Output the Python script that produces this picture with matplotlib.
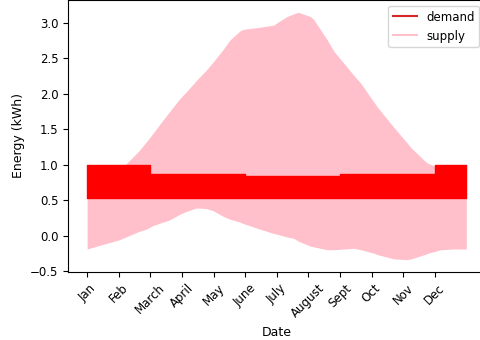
import matplotlib
matplotlib.use("Agg")
import matplotlib.pyplot as plt
from matplotlib.lines import Line2D
import numpy as np

months = ["Jan", "Feb", "March", "April", "May", "June", "July",
          "August", "Sept", "Oct", "Nov", "Dec"]

# demand band, one value per month (held for the month)
demand_low = [0.53, 0.53, 0.53, 0.53, 0.53, 0.53, 0.53, 0.53, 0.53, 0.53, 0.53, 0.53]
demand_high = [1.0, 1.0, 0.87, 0.87, 0.87, 0.835, 0.835, 0.835, 0.87, 0.87, 0.87, 0.99]

# supply band (x in months from Jan)
supply_x = [0.0, 0.38, 1.02, 1.23, 1.65, 1.87, 2.08, 2.4, 2.61, 2.93, 3.14, 3.46,
            3.78, 3.99, 4.31, 4.52, 4.84, 4.94, 5.47, 5.9, 6.0, 6.32, 6.54, 6.69,
            7.07, 7.17, 7.6, 7.81, 8.13, 8.44, 8.66, 9.08, 9.19, 9.72, 10.14,
            10.25, 10.67, 10.78, 11.2, 11.6, 12.0]
supply_high = [0.85, 0.88, 0.95, 1.01, 1.2, 1.32, 1.44, 1.63, 1.75, 1.93, 2.03, 2.19,
               2.34, 2.45, 2.63, 2.76, 2.89, 2.91, 2.94, 2.97, 3.0, 3.09, 3.13, 3.15,
               3.09, 3.05, 2.76, 2.6, 2.43, 2.26, 2.15, 1.88, 1.81, 1.52, 1.3,
               1.24, 1.06, 1.02, 0.95, 0.9, 0.88]
supply_low = [-0.19, -0.14, -0.06, -0.02, 0.06, 0.09, 0.14, 0.19, 0.22, 0.3, 0.34, 0.39,
              0.38, 0.35, 0.27, 0.23, 0.19, 0.17, 0.09, 0.03, 0.02, -0.02, -0.04, -0.08,
              -0.15, -0.16, -0.2, -0.2, -0.19, -0.18, -0.2, -0.25, -0.27, -0.33, -0.34,
              -0.33, -0.27, -0.25, -0.2, -0.19, -0.19]

fig = plt.figure(figsize=(4.8, 3.4), dpi=100)
ax = fig.add_axes([0.142, 0.2, 0.869, 0.8])

ax.fill_between(supply_x, supply_low, supply_high, color="pink", linewidth=0)

xm = np.arange(len(months) + 1)
lo = demand_low + [demand_low[-1]]
hi = demand_high + [demand_high[-1]]
ax.fill_between(xm, lo, hi, step="post", color="red", edgecolor="red",
                linewidth=1, joinstyle="round")

handles = [Line2D([], [], color="#d62728"), Line2D([], [], color="pink")]
ax.legend(handles, ["demand", "supply"], loc="upper right", fontsize=8.5)

ax.set_xticks(np.arange(len(months)))
ax.set_xticklabels(months, rotation=45)
ax.tick_params(labelsize=8.5)
ax.set_xlabel("Date", fontsize=9)
ax.set_ylabel("Energy (kWh)", fontsize=9)

fig.savefig("out.png", dpi=100)
